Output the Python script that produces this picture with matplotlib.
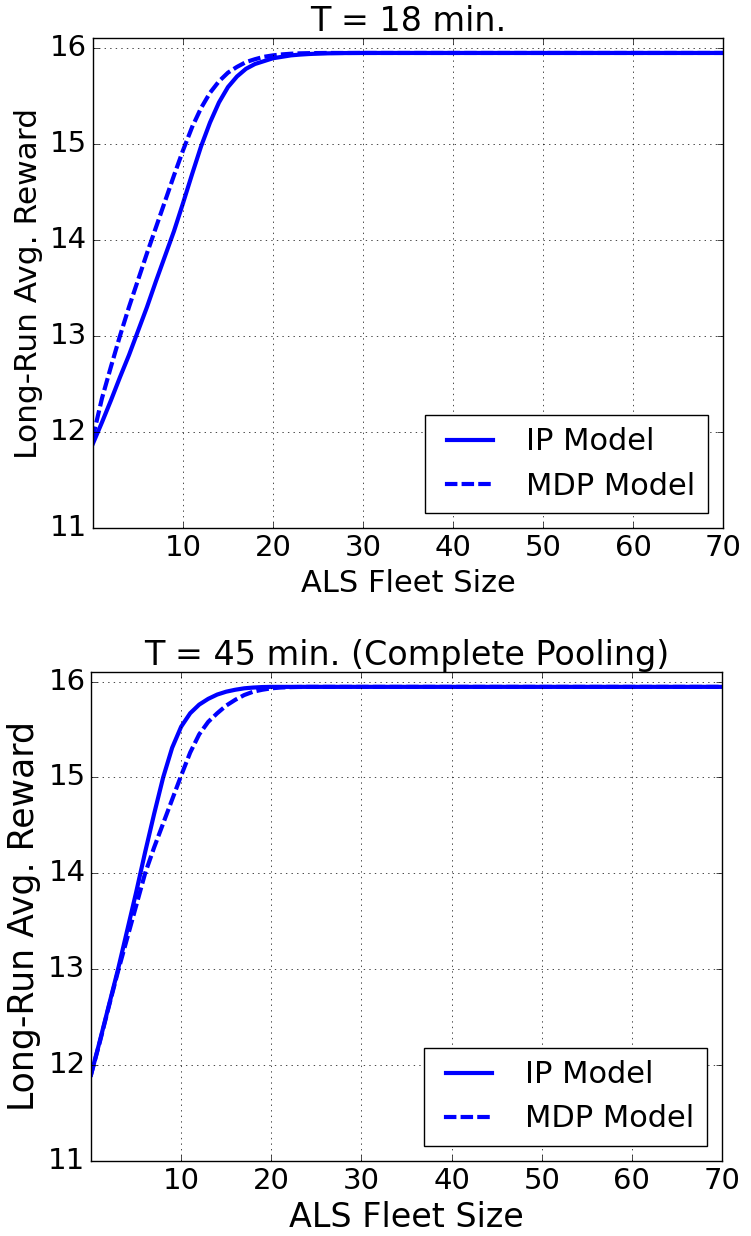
import matplotlib
matplotlib.use("Agg")
import matplotlib.pyplot as plt

plt.style.use('classic')
plt.rcParams['font.family'] = ['DejaVu Sans']

# fleet size
fleet = [0, 1, 2, 3, 4, 5, 6, 7, 8, 9, 10, 11, 12, 13, 14, 15, 16, 17, 18, 19,
         20, 21, 22, 23, 24, 25, 26, 28, 30, 40, 50, 60, 70]

# T = 18 min.
ip_18 = [11.88, 12.1, 12.33, 12.57, 12.8, 13.05, 13.3, 13.57, 13.83, 14.09,
         14.38, 14.68, 14.97, 15.22, 15.43, 15.59, 15.7, 15.78, 15.83, 15.86,
         15.89, 15.905, 15.92, 15.928, 15.934, 15.938, 15.941, 15.944, 15.945, 15.945, 15.945, 15.945, 15.945]
mdp_18 = [11.95, 12.35, 12.68, 13.0, 13.3, 13.58, 13.86, 14.13, 14.4, 14.67,
          14.93, 15.17, 15.37, 15.53, 15.65, 15.74, 15.8, 15.85, 15.88, 15.905,
          15.92, 15.93, 15.937, 15.941, 15.943, 15.944, 15.945, 15.945, 15.945, 15.945, 15.945, 15.945, 15.945]

# T = 45 min. (complete pooling)
ip_45 = [11.9, 12.26, 12.63, 13.0, 13.4, 13.8, 14.22, 14.62, 15.0, 15.31,
         15.53, 15.67, 15.76, 15.82, 15.865, 15.895, 15.915, 15.93, 15.938, 15.943,
         15.945, 15.945, 15.945, 15.945, 15.945, 15.945, 15.945, 15.945, 15.945, 15.945, 15.945, 15.945, 15.945]
mdp_45 = [11.9, 12.25, 12.62, 12.98, 13.32, 13.66, 14.0, 14.27, 14.52, 14.77,
          15.02, 15.26, 15.45, 15.58, 15.67, 15.75, 15.81, 15.86, 15.895, 15.915,
          15.93, 15.938, 15.942, 15.944, 15.945, 15.945, 15.945, 15.945, 15.945, 15.945, 15.945, 15.945, 15.945]

xticks = [10, 20, 30, 40, 50, 60, 70]
yticks = [11, 12, 13, 14, 15, 16]

fig = plt.figure(figsize=(7.51, 12.36), dpi=100, facecolor='white')

panels = [
    ([0.1238, 0.5728, 0.8389, 0.3964], ip_18, mdp_18, "T = 18 min.", 22.5, 22),
    ([0.1212, 0.0607, 0.8402, 0.3956], ip_45, mdp_45, "T = 45 min. (Complete Pooling)", 25, 24),
]

for rect, ip, mdp, title, ylab_fs, xlab_fs in panels:
    ax = fig.add_axes(rect)
    ax.plot(fleet, ip, 'b-', lw=3, label='IP Model')
    ax.plot(fleet, mdp, 'b--', lw=3, dash_capstyle='projecting', label='MDP Model')
    ax.set_xlim(0, 70)
    ax.set_ylim(11, 16.1)
    ax.set_xticks(xticks)
    ax.set_yticks(yticks)
    ax.tick_params(labelsize=21)
    ax.grid(True)
    ax.set_title(title, fontsize=24)
    ax.set_xlabel("ALS Fleet Size", fontsize=xlab_fs)
    ax.set_ylabel("Long-Run Avg. Reward", fontsize=ylab_fs)
    ax.legend(loc='lower right', fontsize=22, handlelength=2.1)

fig.savefig("out.png", dpi=100, facecolor='white')
